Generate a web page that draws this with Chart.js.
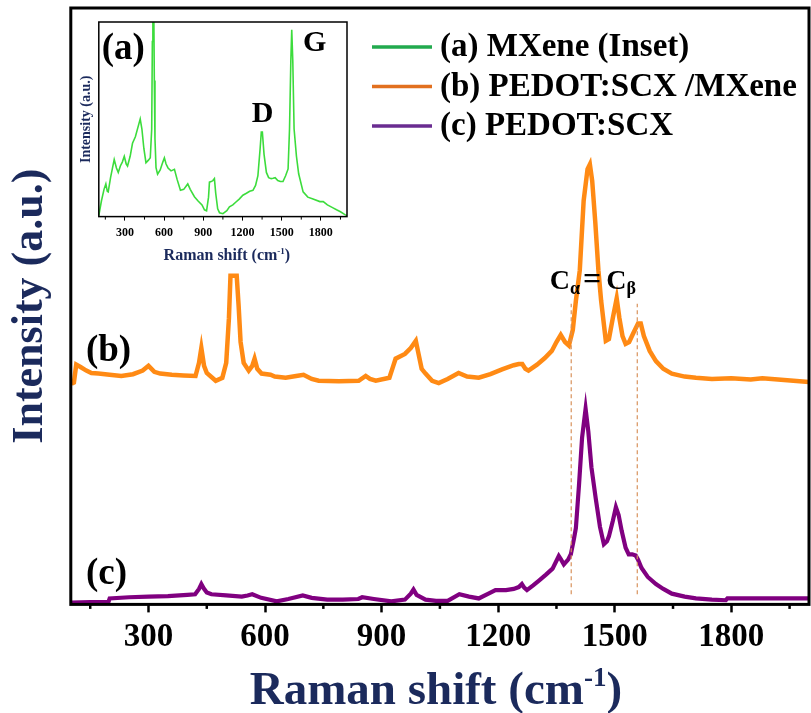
<!DOCTYPE html>
<html lang="en">
<head>
<meta charset="UTF-8" />
<title>Raman spectra</title>
<script src="https://cdn.jsdelivr.net/npm/chart.js"></script>
<style>
  body { margin: 0; background: #fff; }
  #wrap { position: relative; width: 811px; height: 713px; }
  #mainChart { position: absolute; left: 0; top: 0; }
  #insetChart { position: absolute; left: 74px; top: 18px; }
</style>
</head>
<body>
<div id="wrap">
  <canvas id="mainChart" width="811" height="713"></canvas>
  <canvas id="insetChart" width="290" height="250"></canvas>
</div>

<script>
  // (b) PEDOT:SCX/MXene, offset upward
  const shiftB = [102, 108, 114, 125, 140, 153, 171, 200, 230, 260, 285, 300, 315, 330, 360, 390, 421, 430, 436, 443,
    450, 473, 490, 500, 507, 511, 527, 532, 537, 545, 558, 567, 573, 580, 591, 614, 625, 653, 680, 699,
    720, 738, 790, 841, 859, 870, 885, 920, 930, 936, 960, 975, 988, 995, 1003, 1013, 1030, 1047, 1070, 1098,
    1120, 1150, 1180, 1210, 1240, 1253, 1262, 1270, 1278, 1300, 1320, 1338, 1350, 1361, 1372, 1382, 1392, 1400, 1410, 1420,
    1430, 1436, 1442, 1450, 1458, 1465, 1477, 1485, 1495, 1505, 1512, 1520, 1528, 1537, 1548, 1560, 1567, 1575, 1590, 1606,
    1625, 1647, 1680, 1709, 1750, 1800, 1850, 1880, 1920, 1960, 2000];
  const intB = [37.0, 37.2, 40.2, 39.8, 39.2, 38.8, 38.7, 38.5, 38.3, 38.6, 39.2, 40.0, 39.0, 38.7, 38.5, 38.4, 38.3, 40.5, 43.0, 40.0,
    38.8, 37.5, 38.0, 40.5, 48.0, 55.1, 55.1, 50.0, 44.0, 40.5, 39.2, 40.0, 41.2, 39.5, 38.7, 38.5, 38.2, 38.0, 38.3, 38.5,
    37.8, 37.5, 37.4, 37.5, 38.3, 37.8, 37.5, 38.0, 40.0, 41.2, 42.0, 43.0, 44.2, 42.0, 39.5, 38.7, 37.5, 37.1, 37.8, 38.8,
    38.2, 38.0, 38.6, 39.4, 40.1, 40.3, 40.3, 39.5, 39.2, 40.2, 41.3, 42.5, 44.0, 45.2, 44.0, 43.4, 46.0, 50.9, 56.0, 67.7,
    73.0, 73.8, 71.0, 64.0, 56.0, 50.9, 44.2, 44.5, 48.0, 51.3, 48.0, 45.0, 43.7, 44.0, 45.5, 47.1, 47.1, 45.0, 42.5, 40.8,
    39.5, 38.7, 38.2, 38.0, 37.8, 37.9, 37.7, 37.9, 37.7, 37.5, 37.3];

  // (c) PEDOT:SCX
  const shiftC = [102, 150, 197, 200, 250, 300, 350, 400, 420, 430, 436, 442, 450, 462, 500, 540, 555, 567, 590, 630,
    660, 697, 720, 760, 800, 840, 850, 880, 925, 960, 975, 982, 990, 1013, 1040, 1070, 1100, 1125, 1150, 1175,
    1193, 1220, 1240, 1253, 1261, 1267, 1274, 1290, 1305, 1323, 1340, 1356, 1362, 1369, 1380, 1387, 1395, 1400, 1408, 1416,
    1425, 1432, 1440, 1451, 1462, 1472, 1480, 1485, 1495, 1503, 1510, 1518, 1528, 1536, 1545, 1554, 1560, 1569, 1585, 1606,
    1625, 1647, 1680, 1709, 1750, 1786, 1790, 1850, 1900, 2000];
  const intC = [0.3, 0.4, 0.4, 1.0, 1.2, 1.3, 1.4, 1.6, 1.7, 2.6, 3.4, 2.7, 2.0, 1.7, 1.5, 1.3, 1.5, 1.7, 1.1, 0.5,
    0.9, 1.5, 1.1, 0.8, 0.8, 0.9, 1.2, 0.9, 0.5, 0.8, 1.8, 2.5, 1.6, 0.8, 0.6, 0.6, 1.7, 1.3, 1.0, 1.8,
    2.4, 2.4, 2.6, 2.9, 3.4, 2.8, 2.4, 3.2, 4.0, 5.0, 6.0, 8.1, 7.5, 6.7, 7.5, 8.4, 11.0, 12.8, 20.0, 28.0,
    32.8, 29.0, 23.0, 17.8, 13.0, 10.1, 10.6, 11.4, 14.0, 16.3, 15.0, 12.3, 9.5, 8.4, 8.4, 8.2, 7.5, 6.1, 4.6, 3.4,
    2.6, 1.8, 1.3, 1.0, 0.8, 0.7, 1.0, 1.0, 1.0, 1.0];

  // (a) MXene, inset
  const shiftA = [100, 120, 140, 154, 165, 172, 190, 205, 218, 235, 249, 265, 280, 295, 310, 320, 340, 358, 380, 400,
    417, 430, 445, 461, 480, 494, 505, 510, 514, 520, 525, 530, 538, 550, 570, 590, 602, 615, 630, 653,
    679, 700, 725, 750, 781, 800, 832, 860, 890, 909, 925, 940, 947, 960, 973, 985, 995, 1010, 1024, 1050,
    1080, 1100, 1126, 1150, 1175, 1203, 1230, 1255, 1280, 1300, 1318, 1335, 1344, 1352, 1365, 1383, 1400, 1420, 1434, 1450,
    1470, 1490, 1510, 1530, 1549, 1560, 1570, 1577, 1585, 1595, 1613, 1630, 1664, 1700, 1740, 1792, 1818, 1850, 1893, 1920,
    1950, 1984, 2000];
  const intA = [0.5, 8, 14, 16.8, 13, 12.7, 20, 25, 29.3, 25, 22.7, 26, 28, 31, 27, 26, 31, 37.7, 41, 46,
    50.2, 45, 35, 27.7, 29, 30.2, 45, 90, 115, 115, 70, 40, 25.2, 21.8, 24, 28, 30.2, 27, 25, 23.5,
    24.3, 19, 13.5, 14, 16.8, 14, 10.2, 8, 6, 3.5, 3, 10, 17.7, 18, 18.5, 19.5, 12, 4, 2, 1.5,
    3, 5, 6, 7.5, 9, 11, 12, 13, 13.5, 16, 21, 35, 43.5, 43.5, 32, 22.7, 20, 19.5, 19.7, 20,
    18.5, 18, 18, 21, 24.5, 45, 80, 96, 80, 45, 31, 22, 12.7, 10, 9, 7.7, 7.7, 6, 4.5, 3.5,
    2.5, 1, 0.5];

  const majorTicks = [300, 600, 900, 1200, 1500, 1800];
  const minorTicks = [150, 450, 750, 1050, 1350, 1650, 1950];
  const bandLines = [1388, 1558]; // C alpha = C beta guides

  const serif = '"Liberation Serif", "Times New Roman", serif';
  const navy = '#1b2a5c';

  const toPoints = (xs, ys) => xs.map((x, i) => ({ x: x, y: ys[i] }));

  // draw a run of text pieces (for sub/superscripts)
  function drawRich(ctx, parts, x, y, align) {
    let total = 0;
    parts.forEach(p => {
      ctx.font = 'bold ' + p.size + 'px ' + serif;
      p.w = ctx.measureText(p.t).width;
      total += p.w + (p.gap || 0);
    });
    let cx = align === 'center' ? x - total / 2 : x;
    ctx.textAlign = 'left';
    ctx.textBaseline = 'alphabetic';
    parts.forEach(p => {
      ctx.font = 'bold ' + p.size + 'px ' + serif;
      cx += p.gap || 0;
      ctx.fillText(p.t, cx, y + (p.dy || 0));
      cx += p.w;
    });
  }

  // box around plot area, short minor ticks, labels placed in data units
  const decorPlugin = {
    id: 'decor',
    afterDraw(chart, args, opts) {
      const { ctx, chartArea: a, scales: { x, y } } = chart;
      ctx.save();
      ctx.strokeStyle = '#000';
      ctx.lineWidth = opts.frameWidth;
      ctx.strokeRect(a.left, a.top, a.right - a.left, a.bottom - a.top);
      ctx.lineWidth = opts.tickWidth;
      minorTicks.forEach(v => {
        const px = x.getPixelForValue(v);
        ctx.beginPath();
        ctx.moveTo(px, a.bottom);
        ctx.lineTo(px, a.bottom + opts.minorLen);
        ctx.stroke();
      });
      ctx.fillStyle = '#000';
      (opts.labels || []).forEach(l => {
        drawRich(ctx, l.parts, x.getPixelForValue(l.x), y.getPixelForValue(l.y), l.align);
      });
      // x axis title with superscript
      const t = opts.xTitle;
      ctx.fillStyle = navy;
      drawRich(ctx, [
        { t: 'Raman shift (cm', size: t.size },
        { t: '-1', size: t.supSize, dy: -t.supRise },
        { t: ')', size: t.size }
      ], (a.left + a.right) / 2 + t.dx, t.y, 'center');
      ctx.restore();
    }
  };

  const legendItems = [
    { text: '(a) MXene (Inset)', color: '#22aa4e' },
    { text: '(b) PEDOT:SCX /MXene', color: '#e2701f' },
    { text: '(c) PEDOT:SCX', color: '#6a2c91' }
  ];

  const legendPlugin = {
    id: 'sideLegend',
    afterDraw(chart) {
      const ctx = chart.ctx;
      ctx.save();
      legendItems.forEach((it, i) => {
        const ly = 47 + i * 39.5;
        ctx.strokeStyle = it.color;
        ctx.lineWidth = 3.5;
        ctx.beginPath();
        ctx.moveTo(372, ly);
        ctx.lineTo(432, ly);
        ctx.stroke();
        ctx.fillStyle = '#000';
        ctx.font = 'bold 33px ' + serif;
        ctx.textAlign = 'left';
        ctx.textBaseline = 'alphabetic';
        ctx.fillText(it.text, 440, ly + 9);
      });
      ctx.restore();
    }
  };

  const bandSets = bandLines.map(v => ({
    data: [{ x: v, y: 1.7 }, { x: v, y: 50.4 }],
    borderColor: '#d8925c',
    borderWidth: 1.2,
    borderDash: [4, 3],
    pointRadius: 0
  }));

  new Chart(document.getElementById('mainChart'), {
    type: 'line',
    data: {
      datasets: [
        ...bandSets,
        { data: toPoints(shiftB, intB), borderColor: '#ff8a14', borderWidth: 4.5, pointRadius: 0, tension: 0 },
        { data: toPoints(shiftC, intC), borderColor: '#800080', borderWidth: 4.2, pointRadius: 0, tension: 0 }
      ]
    },
    options: {
      responsive: false,
      animation: false,
      layout: { padding: { top: 8, right: 2, bottom: 51, left: 0 } },
      scales: {
        x: {
          type: 'linear',
          min: 100,
          max: 2000,
          afterBuildTicks: s => { s.ticks = majorTicks.map(v => ({ value: v })); },
          ticks: {
            callback: v => String(v),
            color: '#000',
            padding: 5,
            maxRotation: 0,
            font: { family: serif, size: 33, weight: 'bold' }
          },
          grid: { drawOnChartArea: false, tickLength: 8, tickWidth: 2.5, tickColor: '#000' },
          border: { display: false }
        },
        y: {
          min: 0,
          max: 100,
          ticks: { display: false },
          grid: { display: false, drawTicks: false },
          border: { display: false },
          title: {
            display: true,
            text: 'Intensity (a.u.)',
            color: navy,
            padding: { top: 4, bottom: 14 },
            font: { family: serif, size: 44, weight: 'bold' }
          }
        }
      },
      plugins: {
        legend: { display: false },
        tooltip: { enabled: false },
        decor: {
          frameWidth: 3,
          tickWidth: 2.5,
          minorLen: 4.5,
          xTitle: { size: 47, supSize: 27, supRise: 18, y: 704, dx: -4 },
          labels: [
            { x: 197, y: 40.8, align: 'center', parts: [{ t: '(b)', size: 37 }] },
            { x: 192, y: 3.5, align: 'center', parts: [{ t: '(c)', size: 37 }] },
            { x: 1333, y: 52.9, align: 'left', parts: [
              { t: 'C', size: 28 },
              { t: 'α', size: 18, dy: 5 },
              { t: '=', size: 32, gap: 3 },
              { t: 'C', size: 28, gap: 5 },
              { t: 'β', size: 18, dy: 5 }
            ] }
          ]
        }
      }
    },
    plugins: [decorPlugin, legendPlugin]
  });

  new Chart(document.getElementById('insetChart'), {
    type: 'line',
    data: {
      datasets: [
        { data: toPoints(shiftA, intA), borderColor: '#3cdc3c', borderWidth: 1.6, pointRadius: 0, tension: 0 }
      ]
    },
    options: {
      responsive: false,
      animation: false,
      layout: { padding: { top: 4, right: 17, bottom: 23, left: 0 } },
      scales: {
        x: {
          type: 'linear',
          min: 100,
          max: 2000,
          afterBuildTicks: s => { s.ticks = majorTicks.map(v => ({ value: v })); },
          ticks: {
            callback: v => String(v),
            color: '#000',
            padding: 5,
            maxRotation: 0,
            font: { family: serif, size: 12, weight: 'bold' }
          },
          grid: { drawOnChartArea: false, tickLength: 4, tickWidth: 1, tickColor: '#000' },
          border: { display: false }
        },
        y: {
          min: 0,
          max: 100,
          ticks: { display: false },
          grid: { display: false, drawTicks: false },
          border: { display: false },
          title: {
            display: true,
            text: 'Intensity (a.u.)',
            color: navy,
            padding: { top: 4, bottom: 4 },
            font: { family: serif, size: 14, weight: 'bold' }
          }
        }
      },
      plugins: {
        legend: { display: false },
        tooltip: { enabled: false },
        decor: {
          frameWidth: 1.5,
          tickWidth: 1,
          minorLen: 3,
          xTitle: { size: 16, supSize: 9, supRise: 6, y: 242, dx: 4 },
          labels: [
            { x: 287, y: 81, align: 'center', parts: [{ t: '(a)', size: 37 }] },
            { x: 1354, y: 48.5, align: 'center', parts: [{ t: 'D', size: 30 }] },
            { x: 1753, y: 85, align: 'center', parts: [{ t: 'G', size: 30 }] }
          ]
        }
      }
    },
    plugins: [decorPlugin]
  });
</script>
</body>
</html>
